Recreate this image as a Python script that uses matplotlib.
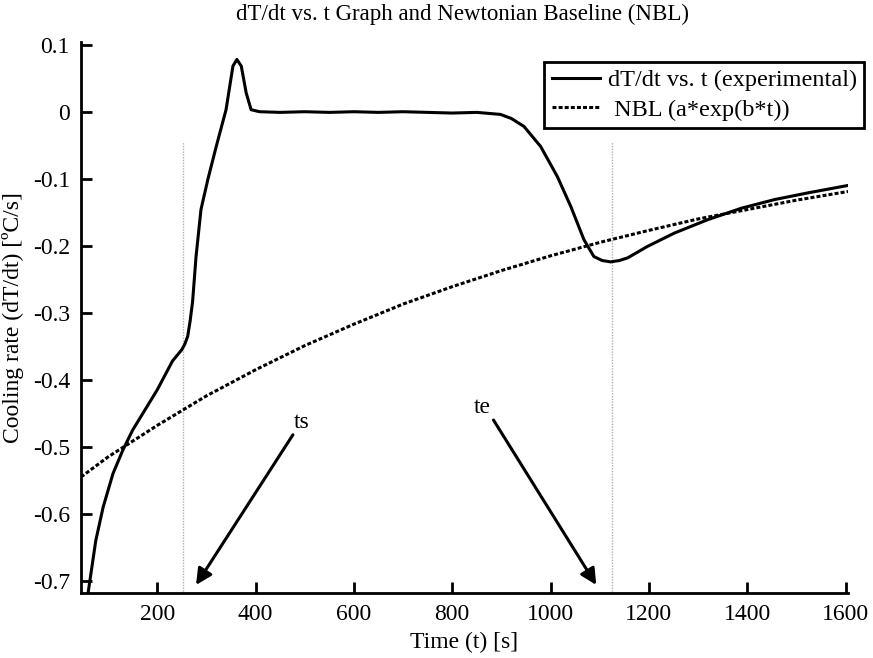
import matplotlib
matplotlib.use("Agg")
import matplotlib.pyplot as plt

plt.rcParams['font.family'] = ['Liberation Serif', 'DejaVu Serif']

# Experimental dT/dt curve
t_exp = [57, 65, 75, 90, 110, 130, 150, 175, 200, 231, 250, 256, 262, 267, 272, 279, 289,
         303, 320, 340, 354, 362, 371, 381, 391, 408, 450, 500, 550, 600, 650, 700, 750,
         800, 850, 898, 920, 946, 980, 1014, 1041, 1068, 1088, 1105, 1122, 1140, 1157,
         1197, 1252, 1320, 1388, 1456, 1524, 1605]
y_exp = [-0.73, -0.69, -0.64, -0.59, -0.54, -0.505, -0.475, -0.445, -0.415, -0.372,
         -0.355, -0.347, -0.335, -0.312, -0.283, -0.216, -0.146, -0.101, -0.052, 0.003,
         0.068, 0.078, 0.068, 0.028, 0.003, 0.000, -0.001, 0.000, -0.001, 0.000, -0.001,
         0.000, -0.001, -0.002, -0.001, -0.004, -0.010, -0.022, -0.052, -0.097, -0.141,
         -0.191, -0.216, -0.222, -0.224, -0.222, -0.218, -0.201, -0.181, -0.161, -0.144,
         -0.131, -0.121, -0.110]

# Newtonian baseline
t_nbl = [45, 100, 200, 300, 400, 500, 600, 700, 800, 900, 1000, 1100, 1200, 1300, 1400,
         1500, 1605]
y_nbl = [-0.545, -0.515, -0.468, -0.424, -0.385, -0.349, -0.317, -0.287, -0.261, -0.237,
         -0.215, -0.195, -0.177, -0.160, -0.146, -0.132, -0.119]

ts, te = 253, 1125
marker_top = -0.045

xticks = [200, 400, 600, 800, 1000, 1200, 1400, 1600]
yticks = [0.1, 0, -0.1, -0.2, -0.3, -0.4, -0.5, -0.6, -0.7]
ytick_labels = ['0.1', '0', '-0.1', '-0.2', '-0.3', '-0.4', '-0.5', '-0.6', '-0.7']

fig = plt.figure(figsize=(8.73, 6.58), dpi=100)
ax = fig.add_axes([81/873, 1 - 593/658, (848 - 81)/873, (593 - 42)/658])

ax.plot(t_exp, y_exp, color='black', lw=2.2, label='dT/dt vs. t (experimental)', zorder=3)
ax.plot(t_nbl, y_nbl, color='black', lw=2.2, linestyle=(0, (1.3, 0.7)),
        label=' NBL (a*exp(b*t))', zorder=3)

for xv in (ts, te):
    ax.plot([xv, xv], [-0.72, marker_top], color='#b0b0b0', lw=1.0, linestyle=(0, (1, 1)), zorder=1)

arrow = dict(arrowstyle='-|>', lw=2.2, color='black', mutation_scale=24, shrinkA=0, shrinkB=0)
ax.annotate('', xy=(279, -0.706), xytext=(476, -0.482), arrowprops=arrow)
ax.annotate('', xy=(1093, -0.706), xytext=(884, -0.460), arrowprops=arrow)
ax.text(494, -0.480, 'ts', fontsize=17, ha='center', va='bottom')
ax.text(862, -0.457, 'te', fontsize=17, ha='center', va='bottom')

ax.set_xlim(45, 1605)
ax.set_ylim(-0.718, 0.104)
ax.set_xticks(xticks)
ax.set_yticks(yticks)
ax.set_yticklabels(ytick_labels)
ax.tick_params(direction='in', length=8, width=2, labelsize=17, pad=8)
for s in ('top', 'right'):
    ax.spines[s].set_visible(False)
for s in ('left', 'bottom'):
    ax.spines[s].set_linewidth(2)

ax.set_xlabel('Time (t) [s]', fontsize=17, labelpad=5)
ax.set_ylabel('Cooling rate (dT/dt) [ºC/s]', fontsize=17, labelpad=6)
fig.text(462/873, 1 - 14/658, 'dT/dt vs. t Graph and Newtonian Baseline (NBL)',
         fontsize=16.5, ha='center', va='center')

leg = ax.legend(loc='upper right', bbox_to_anchor=(864/873, 1 - 62/658),
                bbox_transform=fig.transFigure, borderaxespad=0, fontsize=17.5,
                fancybox=False, framealpha=1, edgecolor='black', handlelength=2.0,
                handletextpad=0.3, borderpad=0.3, labelspacing=0.3)
leg.get_frame().set_linewidth(2)

fig.savefig('out.png', dpi=100)
